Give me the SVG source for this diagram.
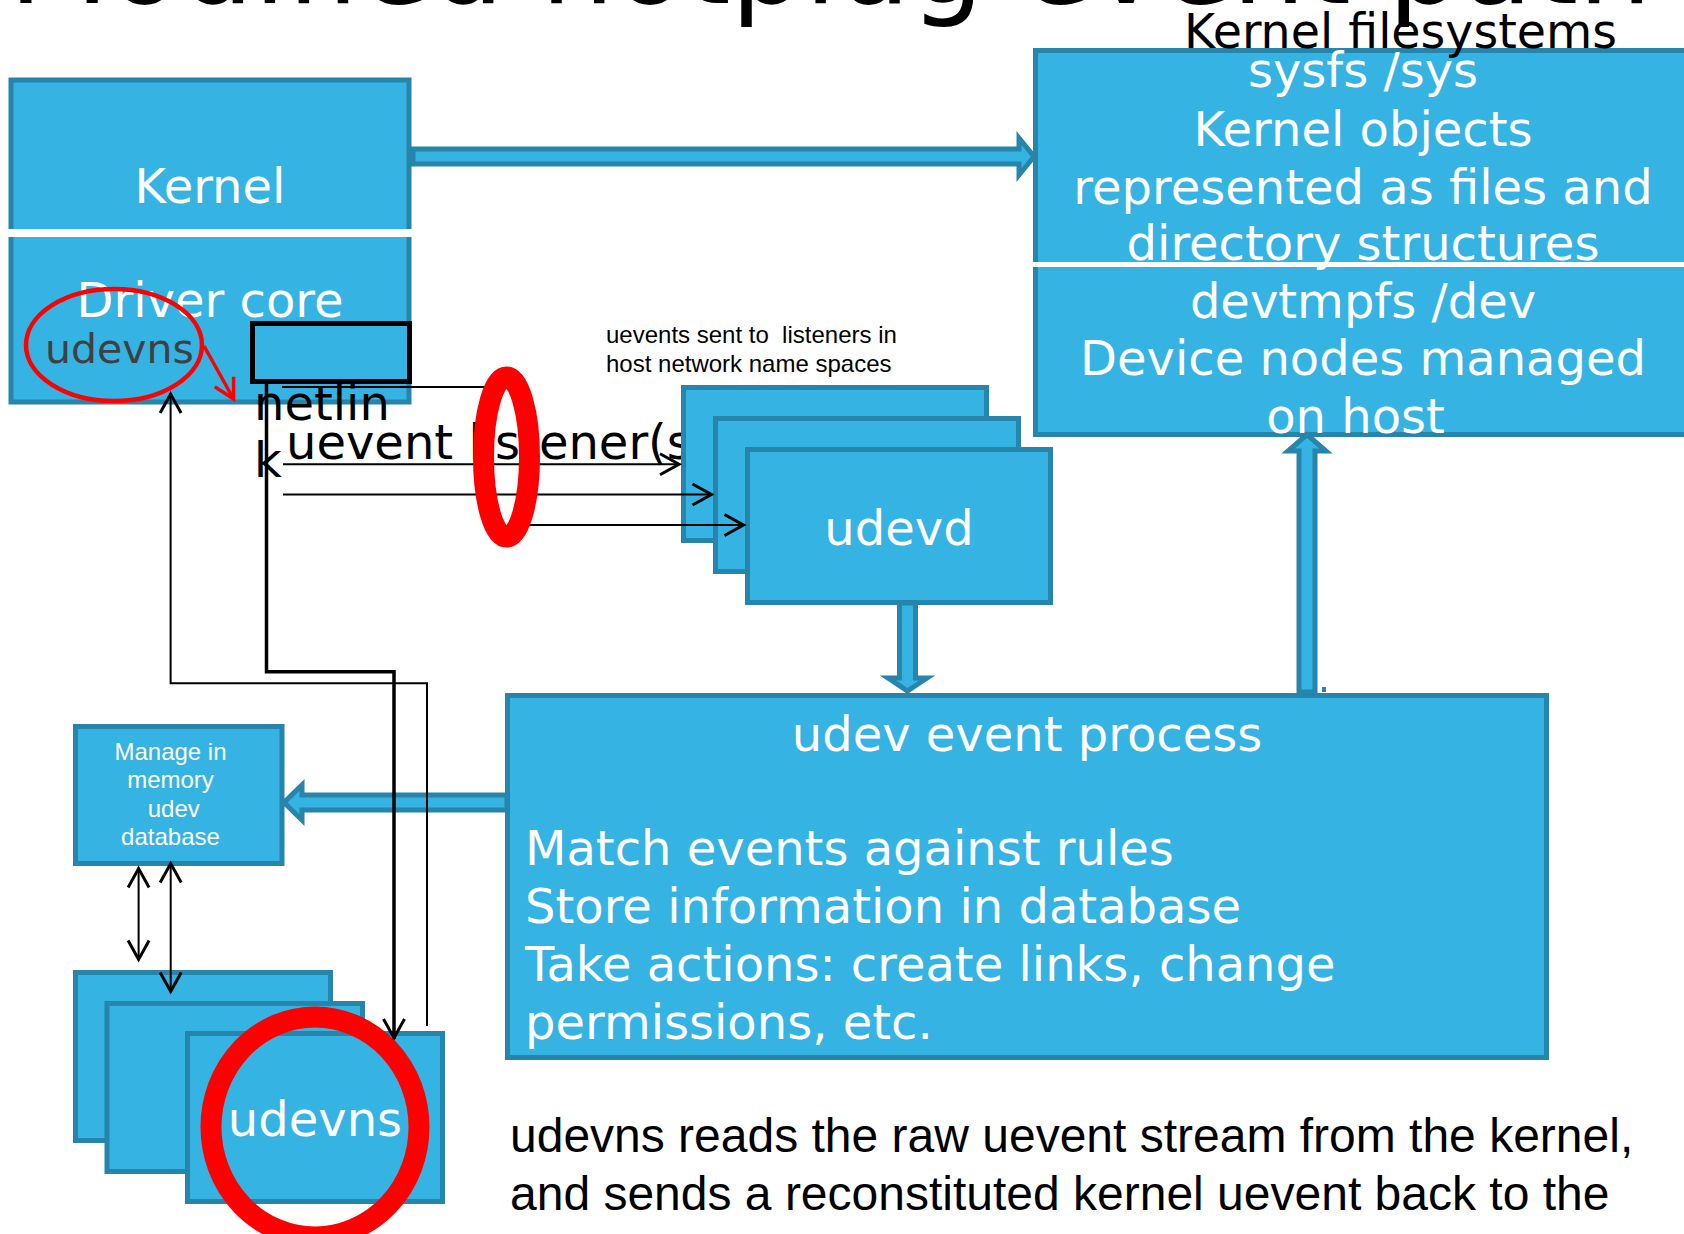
<svg xmlns="http://www.w3.org/2000/svg" width="1684" height="1234" viewBox="0 0 1684 1234">
<defs>
<style>
.box{fill:#35b3e3;stroke:#2784ab;stroke-width:5}
.blk{fill:#35b3e3;stroke:#2784ab;stroke-width:5;stroke-linejoin:miter}
.dv{font-family:"DejaVu Sans","Liberation Sans",sans-serif}
.ar{font-family:"Liberation Sans",Arial,sans-serif}
.w{fill:#ffffff}
.k{fill:#000000}
.n48{font-size:48px}
.ln{fill:none;stroke:#000000}
.red{fill:none;stroke:#ff0000}
</style>
<marker id="ah" viewBox="-24 -14 28 28" refX="0" refY="0" markerWidth="28" markerHeight="28" markerUnits="userSpaceOnUse" orient="auto-start-reverse">
<path d="M-20,-10.5 L-1,0 L-20,10.5" fill="none" stroke="#000" stroke-width="3"/>
</marker>
</defs>
<rect width="1684" height="1234" fill="#ffffff"/>

<text id="title" class="dv k" x="9" y="3" font-size="116">Modified hotplug event path</text>

<g id="kernelfs">
<rect class="box" x="1035.5" y="50.5" width="700" height="384"/>
<rect x="1030" y="262" width="660" height="5" fill="#ffffff"/>
<g class="dv w n48" text-anchor="middle">
<text x="1363" y="87">sysfs /sys</text>
<text x="1363" y="146">Kernel objects</text>
<text x="1363" y="203.5">represented as files and</text>
<text x="1363" y="259.5">directory structures</text>
<text x="1363" y="317.5">devtmpfs /dev</text>
<text x="1363" y="375">Device nodes managed</text>
<text x="1355.5" y="432.5">on host</text>
</g>
<text class="dv k" x="1400.5" y="48" font-size="47.5" text-anchor="middle">Kernel filesystems</text>
</g>

<g id="kernel">
<rect class="box" x="11" y="80" width="398" height="322"/>
<rect x="5" y="229" width="412" height="8" fill="#ffffff"/>
<text class="dv w n48" x="210" y="203" text-anchor="middle">Kernel</text>
<text class="dv w n48" x="210" y="317" text-anchor="middle">Driver core</text>
<text class="dv" x="45" y="363" font-size="41" fill="#404040">udevns</text>
</g>

<g id="netlink">
<rect x="252.5" y="323.5" width="157" height="58" fill="#35b3e3" stroke="#000" stroke-width="5"/>
</g>

<text id="label-listener" class="dv k n48" x="286" y="459">uevent listener(s)</text>

<g id="udevd">
<rect class="box" x="683.5" y="387.5" width="303" height="153"/>
<rect class="box" x="715.5" y="418.5" width="303" height="153"/>
<rect class="box" x="747.5" y="449.5" width="303" height="153"/>
<text class="dv w n48" x="899" y="545" text-anchor="middle">udevd</text>
</g>

<text id="label-netlink" class="dv k n48"><tspan x="254" y="420">netlin</tspan><tspan x="254" y="477">k</tspan></text>

<text id="label-uevents" class="ar k" font-size="24" xml:space="preserve"><tspan x="606" y="343">uevents sent to  listeners in</tspan><tspan x="606" y="371.5">host network name spaces</tspan></text>

<g id="process">
<rect class="box" x="507.5" y="695.5" width="1039" height="362"/>
<g class="dv w n48">
<text x="1027" y="751" text-anchor="middle">udev event process</text>
<text x="525" y="865">Match events against rules</text>
<text x="525" y="923">Store information in database</text>
<text x="525" y="980.5">Take actions: create links, change</text>
<text x="525" y="1038.5">permissions, etc.</text>
</g>
</g>

<g id="manage-db">
<rect class="box" x="75.5" y="726.5" width="206.5" height="137"/>
<g class="ar w" font-size="24" text-anchor="middle">
<text x="170.5" y="759.5">Manage in</text>
<text x="170.5" y="788">memory</text>
<text x="173.8" y="816.7">udev</text>
<text x="170.5" y="845.4">database</text>
</g>
</g>

<g id="udevns">
<rect class="box" x="75.5" y="972.5" width="255" height="168"/>
<rect class="box" x="107" y="1003.5" width="255.5" height="168"/>
<rect class="box" x="187.5" y="1033.5" width="255" height="168"/>
<text class="dv w n48" x="315" y="1136" text-anchor="middle">udevns</text>
</g>

<text id="description" class="ar k n48"><tspan x="510" y="1152">udevns reads the raw uevent stream from the kernel,</tspan><tspan x="510" y="1210">and sends a reconstituted kernel uevent back to the</tspan></text>

<g id="connectors">
<polygon class="blk" points="413,149 1019,149 1019,138 1034,156.5 1019,175 1019,164 413,164"/>
<polygon class="blk" points="899.5,603 915.5,603 915.5,678 927,678 907.5,691 888,678 899.5,678"/>
<polygon class="blk" points="1299,692 1299,451 1288,451 1307,434.5 1326,451 1315,451 1315,692"/>
<rect x="1322" y="687" width="4" height="5" fill="#2784ab"/>
<polygon class="blk" points="507,795 302,795 302,785 284,802.5 302,820 302,810 507,810"/>

<path class="ln" stroke-width="3.5" d="M266.5,384 V671.7 H394 V1039" marker-end="url(#ah)"/>
<path class="ln" stroke-width="2" d="M427,1026 V683.3 H170.6 V393" marker-end="url(#ah)"/>
<path class="ln" stroke-width="2" d="M282,387 H490"/>
<path class="ln" stroke-width="2" d="M283,464.3 H680" marker-end="url(#ah)"/>
<path class="ln" stroke-width="2" d="M283,494.5 H712.5" marker-end="url(#ah)"/>
<path class="ln" stroke-width="2" d="M528,525 H744.5" marker-end="url(#ah)"/>
<path class="ln" stroke-width="2" d="M138.6,867.5 V960.5" marker-start="url(#ah)" marker-end="url(#ah)"/>
<path class="ln" stroke-width="2" d="M170.7,862.5 V992.5" marker-start="url(#ah)" marker-end="url(#ah)"/>
</g>

<g id="annotations">
<ellipse class="red" cx="114" cy="345" rx="88" ry="56" stroke-width="4.5"/>
<path class="red" stroke-width="3.5" d="M204,346 L233.6,399 M214.8,386.7 L233.6,399 L233.6,376.7"/>
<ellipse class="red" cx="506.5" cy="457" rx="23" ry="80" stroke-width="21"/>
<ellipse class="red" cx="315" cy="1127" rx="104" ry="110" stroke-width="21"/>
</g>
</svg>
